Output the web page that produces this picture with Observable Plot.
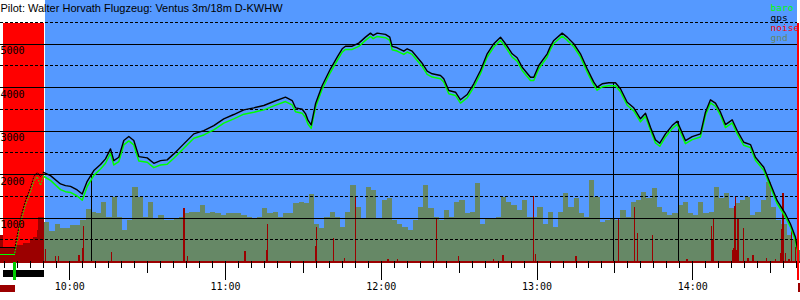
<!DOCTYPE html>
<html><head><meta charset="utf-8">
<script src="https://cdn.jsdelivr.net/npm/d3@7"></script>
<script src="https://cdn.jsdelivr.net/npm/@observablehq/plot@0.6"></script>
<style>html,body{margin:0;padding:0;background:#fff;}#chart svg{display:block}</style>
</head><body><div id="chart"></div>
<script>
// ---- text ----
const title = "Pilot: Walter Horvath Flugzeug: Ventus 3m/18m D-KWHW";
const legendLabels = ["baro", "gps", "noise", "gnd"];
const legendColors = ["#00ff00", "#000000", "#ff0000", "#668866"];
const yTickLabels = [1000, 2000, 3000, 4000, 5000];
const dashedLevels = [500, 1500, 2500, 3500, 4500, 5500];
const hourTickLabels = ["10:00", "11:00", "12:00", "13:00", "14:00"];

// ---- time window / events ----
const viewStart = "09:33:18", viewEnd = "14:41:29";
const engineWindow = ["09:34:35", "09:50:05"];
const flightWindow = ["09:50:30", "14:40:11"];
const landingWindow = ["14:40:11", "14:41:04"];
const takeoffTime = "09:38:49";
const towBarWindow = ["09:34:23", "09:50:18"];
const lowBarLeft = ["09:33:18", "09:39:08"];
const lowBarRight = ["14:40:38", "14:41:29"];

// ---- ground stubs before take-off ----
const preTimes = ["09:33:18", "09:38:49"];
const preGps = [325, 325];
const preBaro = [156, 156];

// ---- aerotow ----
const towTimes = ["09:38:49","09:41:01","09:42:56","09:44:52","09:46:08","09:47:27","09:48:43","09:49:52"];
const towGps  = [300, 1000, 1400, 1700, 1950, 2050, 1950, 2050];
const towBaro = [200, 900, 1300, 1600, 1850, 1950, 1750, 1960];
const towNoiseTimes = ["09:33:18","09:34:35","09:39:09","09:42:21","09:44:52","09:46:08","09:47:27","09:48:06","09:50:18"];
const towNoise = [593, 325, 364, 403, 479, 555, 709, 1007, 1007];

// ---- free flight ----
const flightTimes = [
"09:49:52","09:52:34","09:56:25","09:58:20","10:00:16","10:02:51","10:04:47","10:06:42","10:09:15","10:11:50",
"10:13:45","10:15:41","10:16:57","10:18:53","10:20:48","10:22:44","10:24:39","10:26:35","10:29:49","10:32:22",
"10:34:56","10:37:31","10:40:04","10:43:55","10:47:46","10:51:37","10:55:28","10:59:19","11:03:10","11:07:02",
"11:10:53","11:14:44","11:18:35","11:23:05","11:25:40","11:26:56","11:29:31","11:30:47","11:31:45","11:32:59",
"11:33:53","11:34:39","11:37:14","11:40:25","11:43:00","11:44:56","11:46:12","11:48:47","11:51:19","11:53:54",
"11:55:50","11:56:52","11:58:25","12:01:36","12:03:16","12:04:11","12:06:07","12:08:40","12:09:58","12:11:53",
"12:13:49","12:15:44","12:17:40","12:19:36","12:22:48","12:24:04","12:26:00","12:28:35","12:30:30","12:33:05",
"12:35:37","12:38:12","12:40:47","12:43:20","12:45:55","12:47:50","12:50:25","12:52:20","12:54:16","12:57:28",
"12:58:44","13:00:40","13:03:54","13:05:00","13:06:26","13:09:40","13:11:36","13:14:08","13:16:43","13:19:18",
"13:21:51","13:23:09","13:25:05","13:27:37","13:30:12","13:32:08","13:34:43","13:37:15","13:39:50","13:41:46",
"13:43:41","13:45:37","13:47:16","13:49:28","13:52:02","13:53:58","13:55:14","13:57:10","13:59:45","14:02:57",
"14:04:52","14:06:48","14:08:44","14:10:39","14:12:35","14:15:10","14:17:05","14:19:38","14:22:13","14:24:08",
"14:27:20","14:29:55","14:32:30","14:35:42","14:37:37","14:39:33","14:40:26"];
const gpsAlt = [
2050,1975,1783,1745,1728,1645,1553,1844,2090,2228,
2359,2589,2320,2396,2780,2872,2780,2412,2382,2258,
2320,2336,2474,2704,2934,3010,3125,3280,3379,3487,
3533,3586,3678,3777,3701,3533,3500,3400,3250,3140,
3400,3625,4046,4430,4697,4890,4950,4950,5020,5158,
5250,5197,5250,5220,5158,4944,4913,4835,4890,4835,
4697,4559,4375,4315,4276,4200,3931,3892,3717,3839,
4085,4391,4775,5006,5158,5006,4775,4683,4467,4237,
4237,4506,4775,4928,5082,5250,5158,5006,4775,4430,
4123,4007,4085,4108,4108,3970,3662,3533,3280,3409,
3087,2796,2719,2934,3125,3224,3049,2780,2872,2934,
3432,3717,3639,3432,3148,3257,3010,2741,2688,2396,
2166,1783,1399,1093,863,555,249];
const baroAlt = [
1960,1865,1653,1605,1588,1505,1410,1724,1980,2128,
2259,2489,2220,2296,2680,2772,2680,2312,2282,2158,
2220,2236,2374,2604,2834,2910,3025,3180,3279,3387,
3433,3486,3578,3677,3601,3443,3410,3310,3160,3060,
3320,3545,3966,4350,4617,4815,4875,4875,4945,5083,
5175,5122,5175,5145,5083,4869,4838,4760,4815,4760,
4622,4484,4300,4240,4201,4125,3856,3817,3642,3764,
4010,4316,4700,4931,5083,4931,4700,4608,4392,4162,
4162,4431,4700,4858,5012,5180,5088,4936,4705,4360,
4053,3937,4015,4038,4038,3900,3592,3463,3210,3339,
3017,2726,2649,2864,3055,3154,2979,2710,2802,2864,
3362,3647,3569,3362,3078,3187,2940,2671,2618,2326,
2096,1713,1329,1023,793,485,179];

// ---- turnpoint markers ----
const markerTimes = ["10:08:29", "13:29:20", "13:54:23"];
const markerAlts = [1975, 4108, 3224];

// ---- ground elevation, sampled every 2 minutes ----
const gndStart = "09:50:18";
const gndStepMinutes = 2;
const gndElev = [
900,700,862,748,748,824,824,939,1200,1130,
1100,1360,1015,1475,1015,709,939,1705,1475,1015,
1360,978,1054,939,939,978,1015,1093,1130,1130,
1284,1093,1130,1093,1054,1093,1093,1093,1054,1015,
978,1015,1208,1093,1130,1015,1093,1093,1323,1360,
1323,1530,862,748,1015,1130,1015,785,1130,1744,
1245,978,1705,1629,978,1399,1438,939,862,785,
709,939,1245,1744,1208,1015,939,1169,1015,1360,
1399,1093,1130,1783,862,978,978,1015,1475,1360,
1284,1169,1399,1015,1015,1245,862,1130,785,1130,
1552,1245,1438,1093,1015,1859,1475,901,939,978,
939,1169,1015,1360,1399,1590,1438,1667,1245,1130,
1054,1093,1284,1360,1093,1054,1360,1093,1130,1705,
1438,1552,1208,1323,1399,1475,1054,1130,1399,1821,
1245,939,862,594,517,249];

// ---- noise (ENL) spikes ----
const noiseTimes = [
"09:50:38","09:54:29","09:55:39","10:03:28","10:04:47","10:05:23","10:15:57","10:43:55","10:45:27","11:07:25",
"11:16:00","11:16:16","11:34:39","11:35:02","11:41:41","11:45:56","11:50:10","12:02:30","12:06:21","12:21:22",
"12:29:51","12:43:20","12:46:57","12:58:44","12:59:30","13:15:04","13:31:28","13:37:38","13:38:47","13:44:32",
"13:57:49","14:07:18","14:07:41","14:08:04","14:15:16","14:15:39","14:16:02","14:16:25","14:16:48","14:17:05",
"14:17:28","14:19:38","14:21:19","14:23:15","14:28:23","14:31:51","14:33:40","14:34:02","14:34:26","14:34:49",
"14:35:42","14:37:00","14:37:55","14:39:33"];
const noiseLevel = [
270,120,110,133,295,800,210,1208,110,225,
250,862,340,785,540,65,1500,50,45,962,
110,50,133,1500,157,126,992,1245,647,594,
50,800,480,992,264,300,1260,1460,264,200,
962,760,60,133,60,40,150,180,731,1552,
180,50,731,320];

// ---- build ----
const P = d3.utcParse("%H:%M:%S");
const PH = d3.utcParse("%H:%M");
const t0 = P(viewStart), t1 = P(viewEnd);
const flight = flightTimes.map((t, i) => ({t: P(t), gps: gpsAlt[i], baro: baroAlt[i]}));
const pre = preTimes.map((t, i) => ({t: P(t), gps: preGps[i], baro: preBaro[i]}));
const tow = towTimes.map((t, i) => ({t: P(t), gps: towGps[i], baro: towBaro[i]}));
const towN = towNoiseTimes.map((t, i) => ({t: P(t), v: towNoise[i]}));
const g0 = P(gndStart);
const gnd = gndElev.map((v, i) => ({
  t1: d3.utcMinute.offset(g0, i * gndStepMinutes),
  t2: d3.utcMinute.offset(g0, (i + 1) * gndStepMinutes), v}));
const noise = noiseTimes.map((t, i) => ({t: P(t), v: noiseLevel[i]}));
const markers = markerTimes.map((t, i) => ({t: P(t), v: markerAlts[i]}));
const ticks5 = d3.utcMinute.every(5).range(d3.utcMinute.offset(t0, 1), t1);
const ticks30 = d3.utcMinute.every(30).range(t0, t1);
const hourTicks = hourTickLabels.map(PH);
const win = (w) => [{a: P(w[0]), b: P(w[1])}];

const BLUE = "#5599ff", DARKRED = "#9b0000", GND = "#668866";
const MONO = "DejaVu Sans Mono";
const CRISP = "crispEdges";

const chart = Plot.plot({
  width: 800, height: 300,
  marginLeft: 0, marginRight: 0, marginTop: 0, marginBottom: 39,
  x: {type: "utc", domain: [t0, t1], range: [0, 800]},
  y: {domain: [0, 5000], range: [261, 43.5], axis: null},
  style: {fontFamily: MONO, fontSize: "10px", background: "white", overflow: "hidden"},
  marks: [
    Plot.rect(win(flightWindow), {x1: "a", x2: "b", fill: BLUE, shapeRendering: CRISP}),
    Plot.rect(win(engineWindow), {x1: "a", x2: "b", fill: "#ff0000", insetTop: 23, shapeRendering: CRISP}),
    Plot.rectY(gnd, {x1: "t1", x2: "t2", y: "v", fill: GND, shapeRendering: CRISP}),
    Plot.areaY(towN, {x: "t", y: "v", fill: DARKRED, curve: "step-after", shapeRendering: CRISP}),
    Plot.ruleX(noise, {x: "t", y1: 0, y2: "v", stroke: DARKRED, strokeWidth: 1.4, shapeRendering: CRISP}),
    Plot.ruleY([0], {stroke: DARKRED, strokeWidth: 2, shapeRendering: CRISP}),
    Plot.ruleY(dashedLevels, {stroke: "black", strokeWidth: 1, strokeDasharray: "3,2", insetRight: 3, shapeRendering: CRISP}),
    Plot.ruleY(yTickLabels, {stroke: "black", strokeWidth: 1, insetRight: 3, shapeRendering: CRISP}),
    Plot.ruleX(markers, {x: "t", y1: 0, y2: "v", stroke: "black", strokeWidth: 1, shapeRendering: CRISP}),
    Plot.line(pre, {x: "t", y: "baro", stroke: "#00ff00", strokeWidth: 1.2, shapeRendering: CRISP}),
    Plot.line(pre, {x: "t", y: "gps", stroke: "black", strokeWidth: 1.2, shapeRendering: CRISP}),
    Plot.line(tow, {x: "t", y: "baro", stroke: "#00ff00", strokeWidth: 1, strokeDasharray: "1,2"}),
    Plot.line(tow, {x: "t", y: "gps", stroke: "black", strokeWidth: 1, strokeDasharray: "1,2"}),
    Plot.line(flight, {x: "t", y: "baro", stroke: "#00ff00", strokeWidth: 1.5}),
    Plot.line(flight, {x: "t", y: "gps", stroke: "black", strokeWidth: 1.4}),
    Plot.rect(win(landingWindow), {x1: "a", x2: "b", fill: "#ff0000", insetTop: 23, insetBottom: -19, shapeRendering: CRISP}),
    Plot.rect(win(towBarWindow), {x1: "a", x2: "b", fill: "black", insetTop: 270, insetBottom: -15.7, shapeRendering: CRISP}),
    Plot.rect(win(lowBarLeft), {x1: "a", x2: "b", fill: DARKRED, insetTop: 285, insetBottom: -31, shapeRendering: CRISP}),
    Plot.rect(win(lowBarRight), {x1: "a", x2: "b", fill: DARKRED, insetTop: 283, insetBottom: -31, shapeRendering: CRISP}),
    Plot.ruleX([P(takeoffTime)], {stroke: "#00cc00", strokeWidth: 3, insetTop: 262, insetBottom: -19, shapeRendering: CRISP}),
    Plot.axisX(ticks5, {anchor: "bottom", tickSize: 7, tickFormat: () => "", label: null, shapeRendering: CRISP}),
    Plot.axisX(ticks30, {anchor: "bottom", tickSize: 12, tickFormat: () => "", label: null, shapeRendering: CRISP}),
    Plot.axisX(hourTicks, {anchor: "bottom", tickSize: 19, tickPadding: 2, tickFormat: d3.utcFormat("%H:%M"),
      label: null, fontFamily: MONO, fontSize: 10, shapeRendering: CRISP}),
    Plot.text(yTickLabels, {y: d => d, text: d => String(d), frameAnchor: "left", textAnchor: "start",
      lineAnchor: "bottom", dy: 10, fontFamily: MONO, fontSize: 10, fill: "black"}),
    ...legendLabels.map((l, i) => Plot.text([l], {text: d => d, frameAnchor: "top-right", textAnchor: "start",
      lineAnchor: "bottom", dx: -30, dy: 10 + 10 * i, fill: legendColors[i], fontFamily: MONO, fontSize: 9.5})),
    Plot.text([title], {text: d => d, frameAnchor: "top-left", textAnchor: "start", lineAnchor: "bottom",
      dy: 11, fontFamily: "Liberation Sans", fontSize: 11, fill: "black"})
  ]
});
document.getElementById("chart").appendChild(chart);
</script>
</body></html>
